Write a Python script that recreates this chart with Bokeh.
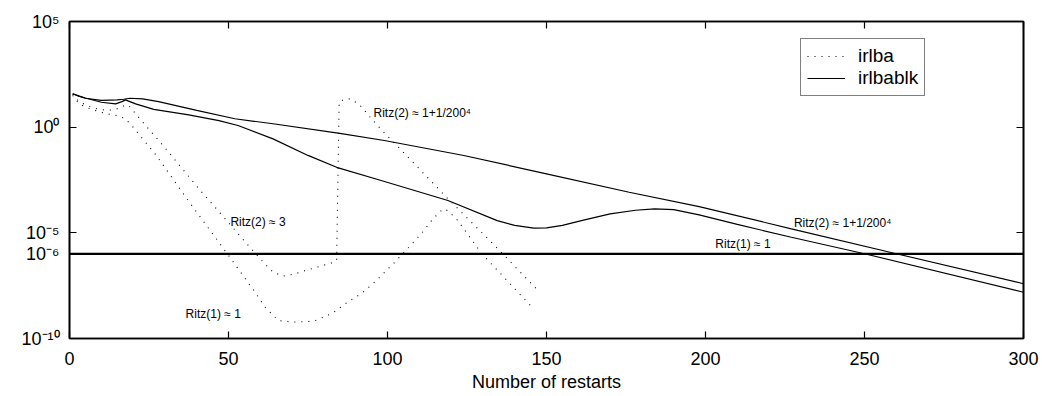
from bokeh.plotting import figure
from bokeh.models import (Range1d, FixedTicker, LinearAxis, LogAxis, Span,
                          CustomJSTickFormatter, ColumnDataSource)
from bokeh.core.properties import value
from bokeh.embed import file_html
from bokeh.resources import INLINE

# ---------------- data ----------------
x_ticks = [0, 50, 100, 150, 200, 250, 300]
y_ticks = [1e-10, 1e-6, 1e-5, 1e0, 1e5]
threshold = 1e-6

# irlba (dotted), first Ritz value curve: Ritz(2) ~ 3, then Ritz(2) ~ 1+1/200^4
irlba_a_x = [1, 3, 6, 9, 12, 14.5, 17, 18.5, 21.3, 31, 40.7, 48.5, 56.9, 61, 64, 67, 71,
             74.2, 79.5, 82.1, 84, 84.8, 86.5, 88.4, 90.5, 92, 93.6, 97.8, 104, 112.5,
             117.7, 134.6, 147]
irlba_a_y = [35.5, 15.8, 10, 7.1, 6.3, 6.9, 10, 11.2, 3.5, 0.071, 1.2e-3, 5.5e-5, 1.95e-6,
             4.0e-7, 1.4e-7, 8.9e-8, 1.15e-7, 1.66e-7, 2.8e-7, 3.6e-7, 5.0e-7, 15.8, 20.9,
             21.9, 13.5, 8.7, 4.3, 0.83, 0.093, 4.3e-3, 6.5e-4, 1.82e-6, 2.1e-8]

# irlba (dotted), second curve: Ritz(1) ~ 1
irlba_b_x = [1, 3, 6, 9, 12, 14, 16, 17.6, 20, 27.3, 37.7, 48.5, 58, 61.6, 65.7, 70, 75,
             77.4, 82.7, 87.7, 92, 96.2, 98.4, 102.5, 106.6, 110.7, 114.5, 117.5, 119, 122,
             129.6, 146]
irlba_b_y = [31.6, 12.6, 7.9, 5.6, 4.2, 3.8, 3.16, 2.45, 1.0, 0.046, 2.8e-4, 1.74e-6,
             1.86e-8, 2.9e-9, 7.1e-10, 6.0e-10, 6.3e-10, 7.1e-10, 1.58e-9, 5.6e-9, 1.41e-8,
             5.0e-8, 1.07e-7, 4.4e-7, 2.0e-6, 9.3e-6, 5.0e-5, 1.35e-4, 1.12e-4, 4.0e-5,
             1.05e-6, 2.5e-9]

# irlbablk (solid), Ritz(2) ~ 1+1/200^4
blk_a_x = [1, 3, 5, 10, 15, 17, 19, 23, 28, 40, 52, 64, 85, 99, 124, 150, 176, 198, 227,
           260, 300]
blk_a_y = [38, 29.5, 23.4, 18.6, 19.5, 20.9, 23.4, 21.9, 16.2, 6.2, 2.5, 1.45, 0.51, 0.234,
           0.0457, 6.2e-3, 8.3e-4, 1.74e-4, 1.55e-5, 1.02e-6, 3.9e-8]

# irlbablk (solid), Ritz(1) ~ 1
blk_b_x = [1, 3, 5, 10, 14.5, 16.5, 17.6, 20.8, 26.5, 37.5, 47, 53, 64, 75, 84, 98, 119,
           134.5, 140, 146, 150, 155, 161, 170, 178, 184, 190, 198, 210, 227, 250, 300]
blk_b_y = [38, 29.5, 24, 15.1, 12.6, 16.2, 19.5, 12.6, 6.9, 3.8, 2.04, 1.2, 0.28, 0.046,
           0.0126, 3.0e-3, 3.4e-4, 3.8e-5, 2.24e-5, 1.66e-5, 1.70e-5, 2.24e-5, 3.8e-5,
           7.9e-5, 1.17e-4, 1.35e-4, 1.26e-4, 7.1e-5, 2.5e-5, 6.2e-6, 1.02e-6, 1.55e-8]

# annotations
note_text = ["Ritz(2) \u2248 1+1/200\u2074", "Ritz(2) \u2248 3", "Ritz(1) \u2248 1",
             "Ritz(2) \u2248 1+1/200\u2074", "Ritz(1) \u2248 1"]
note_x = [95.6, 50.6, 36.5, 227.8, 203.1]
note_y = [4.5, 3.2e-5, 1.5e-9, 2.8e-5, 3.0e-6]

FONT = "Liberation Sans"

p = figure(width=1040, height=394, output_backend="svg", toolbar_location=None,
           y_axis_type="log", x_range=Range1d(0, 300), y_range=Range1d(1e-10, 1e5),
           min_border_left=69, min_border_top=21, min_border_right=17,
           min_border_bottom=55)
p.background_fill_color = "white"
p.border_fill_color = "white"
p.outline_line_color = "black"
p.outline_line_width = 1.6
p.xgrid.grid_line_color = None
p.ygrid.grid_line_color = None

# dotted irlba curves
p.line(irlba_a_x, irlba_a_y, line_color="black", line_width=1.1, line_dash="1 6",
       legend_label="irlba")
p.line(irlba_b_x, irlba_b_y, line_color="black", line_width=1.1, line_dash="1 6")
# solid irlbablk curves
p.line(blk_a_x, blk_a_y, line_color="black", line_width=1.2, legend_label="irlbablk")
p.line(blk_b_x, blk_b_y, line_color="black", line_width=1.2)

p.add_layout(Span(location=threshold, dimension="width", line_color="black",
                  line_width=2.3))

src = ColumnDataSource(dict(x=note_x, y=note_y, t=note_text))
p.text(x="x", y="y", text="t", source=src, text_font=value(FONT),
       text_font_size=value("12px"), text_align="left", text_baseline="middle",
       text_color="black")

sup_fmt = CustomJSTickFormatter(code="""
const e = Math.round(Math.log10(tick));
const m = {"-":"\u207b","0":"\u2070","1":"\u00b9","2":"\u00b2","3":"\u00b3","4":"\u2074",
           "5":"\u2075","6":"\u2076","7":"\u2077","8":"\u2078","9":"\u2079"};
return "10" + String(e).split("").map(c => m[c]).join("");
""")

def style_axis(ax, labels=True):
    ax.axis_line_color = "black"
    ax.axis_line_width = 1.6
    ax.major_tick_line_color = "black"
    ax.major_tick_line_width = 1.2
    ax.major_tick_in = 7
    ax.major_tick_out = 0
    ax.minor_tick_line_color = None
    ax.major_label_text_font = FONT
    if labels:
        ax.major_label_text_font_size = "18px"
        ax.major_label_text_color = "black"
    else:
        ax.major_label_text_font_size = "1px"
        ax.major_label_text_color = None

xa = p.xaxis[0]
xa.ticker = FixedTicker(ticks=x_ticks)
style_axis(xa)
xa.major_label_standoff = 13
xa.axis_label = "Number of restarts"
xa.axis_label_text_font = FONT
xa.axis_label_text_font_size = "18px"
xa.axis_label_text_font_style = "normal"
xa.axis_label_text_color = "black"
xa.axis_label_standoff = 4

ya = p.yaxis[0]
ya.ticker = FixedTicker(ticks=y_ticks)
ya.formatter = sup_fmt
style_axis(ya)
ya.major_label_standoff = 10

top = LinearAxis(ticker=FixedTicker(ticks=x_ticks))
style_axis(top, labels=False)
top.major_label_standoff = 0
p.add_layout(top, "above")

right = LogAxis(ticker=FixedTicker(ticks=y_ticks))
style_axis(right, labels=False)
right.major_label_standoff = 0
p.add_layout(right, "right")

lg = p.legend[0]
lg.location = (731, 242)
lg.margin = 0
lg.padding = 6
lg.spacing = 0
lg.border_line_color = "black"
lg.border_line_width = 1.3
lg.background_fill_color = "white"
lg.background_fill_alpha = 1
lg.label_text_font = FONT
lg.label_text_font_size = "19px"
lg.label_text_color = "black"
lg.glyph_width = 38
lg.glyph_height = 20
lg.label_height = 20
lg.label_standoff = 13

open("out.html", "w").write(file_html(p, INLINE))
